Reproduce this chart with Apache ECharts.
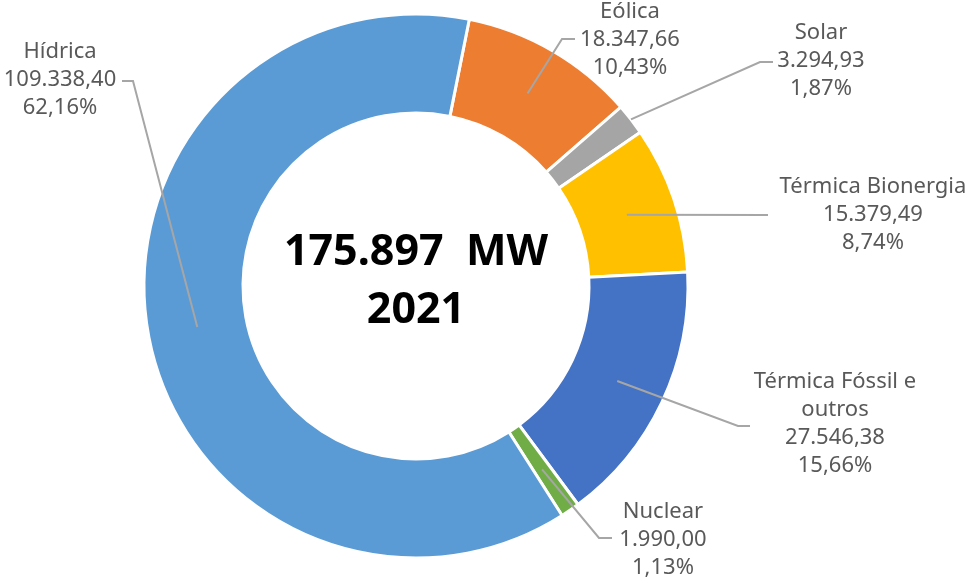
<!DOCTYPE html>
<html>
<head>
<meta charset="utf-8">
<script src="https://cdn.jsdelivr.net/npm/echarts@6/dist/echarts.min.js"></script>
<style>
html,body{margin:0;padding:0;background:#fff;}
#chart{width:968px;height:581px;}
</style>
</head>
<body>
<div id="chart"></div>
<script>
// ---- data ----
const categories = ['Eólica', 'Solar', 'Térmica Bionergia', 'Térmica Fóssil e outros', 'Nuclear', 'Hídrica'];
const values = [18347.66, 3294.93, 15379.49, 27546.38, 1990.00, 109338.40];
const centerLines = ['175.897  MW', '2021'];

// ---- style / layout ----
const colors = ['#ED7D31', '#A5A5A5', '#FFC000', '#4472C4', '#70AD47', '#5B9BD5'];
const CX = 416, CY = 286, R_IN = 173, R_OUT = 272;
const START_DEG_FROM_TOP = 11.3;
// label block centers and elbow/end points of label lines
const labelPos = [
  {x: 630, y: 40, elbow: [562, 39], end: [575, 39], anchorR: 0.5},
  {x: 821, y: 61, elbow: [760, 62], end: [773, 62], anchorR: 1.0},
  {x: 873, y: 215, elbow: [768, 215], end: [768, 215], anchorR: 0.5},
  {x: 835, y: 424, elbow: [738, 426], end: [750, 426], anchorR: 0.5},
  {x: 663, y: 540, elbow: [599, 538], end: [612, 538], anchorR: 0.5},
  {x: 60, y: 80, elbow: [133, 81], end: [122, 81], anchorR: 0.5}
];

const total = values.reduce((a, b) => a + b, 0);

function fmtBR(v, dec) {
  const fixed = v.toFixed(dec);
  let [ip, dp] = fixed.split('.');
  ip = ip.replace(/\B(?=(\d{3})+(?!\d))/g, '.');
  return dp ? ip + ',' + dp : ip;
}
function wrapName(n) {
  if (n.length > 20) {
    const i = n.lastIndexOf(' ');
    return n.slice(0, i) + '\n' + n.slice(i + 1);
  }
  return n;
}

// anchor point inside each slice, from data
const anchors = [];
(function () {
  let cum = 0;
  values.forEach((v, i) => {
    const mid = START_DEG_FROM_TOP + (cum + v / 2) / total * 360;
    cum += v;
    const r = R_IN + (R_OUT - R_IN) * labelPos[i].anchorR;
    const a = mid * Math.PI / 180;
    anchors.push([CX + r * Math.sin(a), CY - r * Math.cos(a)]);
  });
})();

const guideLines = labelPos.map((lp, i) => ({
  type: 'polyline',
  z: 100,
  silent: true,
  shape: {points: [anchors[i], lp.elbow, lp.end]},
  style: {stroke: '#A6A6A6', lineWidth: 2, fill: null}
}));

const chart = echarts.init(document.getElementById('chart'));
chart.setOption({
  animation: false,
  backgroundColor: '#ffffff',
  color: colors,
  graphic: guideLines.concat([
    {type: 'text', z: 100, x: CX, y: 253, style: {text: centerLines[0], fontFamily: 'Noto Sans', fontWeight: 'bold', fontSize: 43, fill: '#000', align: 'center', verticalAlign: 'middle'}},
    {type: 'text', z: 100, x: CX, y: 311, style: {text: centerLines[1], fontFamily: 'Noto Sans', fontWeight: 'bold', fontSize: 43, fill: '#000', align: 'center', verticalAlign: 'middle'}}
  ]),
  series: [{
    type: 'pie',
    center: [CX, CY],
    radius: [R_IN, R_OUT],
    startAngle: 90 - START_DEG_FROM_TOP,
    clockwise: true,
    avoidLabelOverlap: false,
    itemStyle: {borderColor: '#ffffff', borderWidth: 3},
    label: {
      show: true,
      position: 'outside',
      fontFamily: 'Noto Sans',
      fontSize: 22,
      lineHeight: 28,
      color: '#595959',
      align: 'center',
      formatter: function (p) {
        return wrapName(p.name) + '\n' + fmtBR(p.value, 2) + '\n' + fmtBR(p.value / total * 100, 2) + '%';
      }
    },
    labelLine: {show: false},
    labelLayout: function (params) {
      const lp = labelPos[params.dataIndex];
      return {x: lp.x, y: lp.y, align: 'center', verticalAlign: 'middle'};
    },
    data: categories.map((c, i) => ({name: c, value: values[i]}))
  }]
});
</script>
</body>
</html>
